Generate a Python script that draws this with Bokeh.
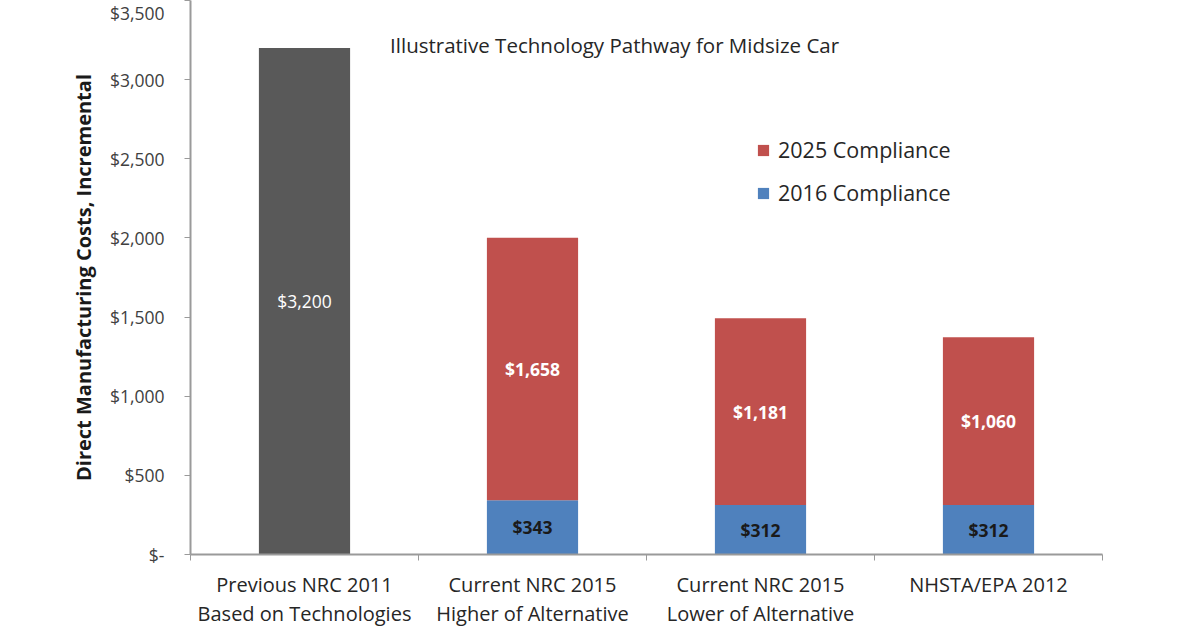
from bokeh.plotting import figure
from bokeh.models import (ColumnDataSource, FixedTicker, Range1d, Legend, LegendItem,
                          LinearAxis, Label)
from bokeh.core.properties import value
from bokeh.embed import file_html
from bokeh.resources import INLINE

# ---- data ----
categories = ["Previous NRC 2011\nBased on Technologies",
              "Current NRC 2015\nHigher of Alternative",
              "Current NRC 2015\nLower of Alternative",
              "NHSTA/EPA 2012"]
previous = [3200, 0, 0, 0]
compliance_2016 = [0, 343, 312, 312]
compliance_2025 = [0, 1658, 1181, 1060]
y_ticks = [0, 500, 1000, 1500, 2000, 2500, 3000, 3500]
y_tick_labels = ["$-", "$500", "$1,000", "$1,500", "$2,000", "$2,500", "$3,000", "$3,500"]
title_text = "Illustrative Technology Pathway for Midsize Car"
y_label = "Direct Manufacturing Costs, Incremental"

FONT = "Open Sans"
GRAY = "#595959"
RED = "#C0504D"
BLUE = "#4F81BD"

xc = [i + 0.5 for i in range(len(categories))]

def money(v):
    return "${:,}".format(v)

p = figure(width=1200, height=630, output_backend="svg", toolbar_location=None,
           x_range=Range1d(0, len(categories)), y_range=Range1d(0, 3500),
           min_border_left=190, min_border_right=98, min_border_top=0,
           min_border_bottom=75, x_axis_type=None)
p.outline_line_color = None
p.grid.visible = False
p.background_fill_color = "white"
p.border_fill_color = "white"

# bars
src_prev = ColumnDataSource(dict(x=xc, top=previous,
                                 mid=[v / 2 for v in previous],
                                 lab=[money(v) if v else "" for v in previous]))
p.vbar(x="x", top="top", bottom=0, width=0.40, source=src_prev,
       fill_color=GRAY, line_color=None)

bottom_2025 = compliance_2016
top_2025 = [a + b for a, b in zip(compliance_2016, compliance_2025)]
src_s = ColumnDataSource(dict(x=xc, b16=compliance_2016, b25=bottom_2025, t25=top_2025,
                              m16=[v / 2 for v in compliance_2016],
                              m25=[a + b / 2 for a, b in zip(compliance_2016, compliance_2025)],
                              l16=[money(v) if v else "" for v in compliance_2016],
                              l25=[money(v) if v else "" for v in compliance_2025]))
r16 = p.vbar(x="x", top="b16", bottom=0, width=0.40, source=src_s,
             fill_color=BLUE, line_color=None)
r25 = p.vbar(x="x", top="t25", bottom="b25", width=0.40, source=src_s,
             fill_color=RED, line_color=None)

# data labels
p.text(x="x", y="mid", text="lab", source=src_prev, text_color="white",
       text_font=value(FONT), text_font_size="17.5px", text_align="center",
       text_baseline="middle")
p.text(x="x", y="m25", text="l25", source=src_s, text_color="white",
       text_font=value(FONT), text_font_size="17.5px", text_font_style="bold",
       text_align="center", text_baseline="middle")
p.text(x="x", y="m16", text="l16", source=src_s, text_color="#1a1a1a",
       text_font=value(FONT), text_font_size="17.5px", text_font_style="bold",
       text_align="center", text_baseline="middle")

# y axis
p.yaxis.ticker = FixedTicker(ticks=y_ticks, minor_ticks=[])
p.yaxis.major_label_overrides = {t: l for t, l in zip(y_ticks, y_tick_labels)}
p.yaxis.major_label_text_font = FONT
p.yaxis.major_label_text_font_size = "17.5px"
p.yaxis.major_label_text_color = "#404040"
p.yaxis.major_label_standoff = 20
p.yaxis.axis_line_color = "#9a9a9a"
p.yaxis.axis_line_width = 2
p.yaxis.major_tick_line_color = "#9a9a9a"
p.yaxis.major_tick_out = 6
p.yaxis.major_tick_in = 0
p.yaxis.minor_tick_line_color = None
p.yaxis.axis_label = y_label
p.yaxis.axis_label_text_font = FONT
p.yaxis.axis_label_text_font_size = "20px"
p.yaxis.axis_label_text_font_style = "bold"
p.yaxis.axis_label_text_color = "#1a1a1a"
p.yaxis.axis_label_standoff = 10

# x axis: boundary ticks as minor ticks, labels at centres
xaxis = LinearAxis(ticker=FixedTicker(ticks=xc, minor_ticks=list(range(len(categories) + 1))),
                   major_label_overrides={x: c for x, c in zip(xc, categories)})
xaxis.major_tick_line_color = None
xaxis.minor_tick_line_color = "#9a9a9a"
xaxis.minor_tick_out = 6
xaxis.minor_tick_in = 0
xaxis.axis_line_color = "#9a9a9a"
xaxis.axis_line_width = 2
xaxis.major_label_text_font = FONT
xaxis.major_label_text_font_size = "20px"
xaxis.major_label_text_color = "#262626"
xaxis.major_label_text_line_height = 1.1
xaxis.major_label_standoff = 10
p.add_layout(xaxis, "below")

# title inside plot
p.add_layout(Label(x=1.86, y=3222, text=title_text, text_font=FONT,
                   text_font_size="20.5px", text_color="#262626",
                   text_align="center", text_baseline="middle"))

legend = Legend(items=[LegendItem(label="2025 Compliance", renderers=[r25]),
                       LegendItem(label="2016 Compliance", renderers=[r16])],
                location=(566, 347))
legend.border_line_color = None
legend.background_fill_alpha = 0
legend.label_text_font = FONT
legend.label_text_font_size = "21.5px"
legend.label_text_color = "#262626"
legend.glyph_width = 14
legend.glyph_height = 14
legend.spacing = 14
legend.padding = 0
legend.margin = 0
legend.label_standoff = 8
p.add_layout(legend, "center")

open("out.html", "w").write(file_html(p, INLINE))
